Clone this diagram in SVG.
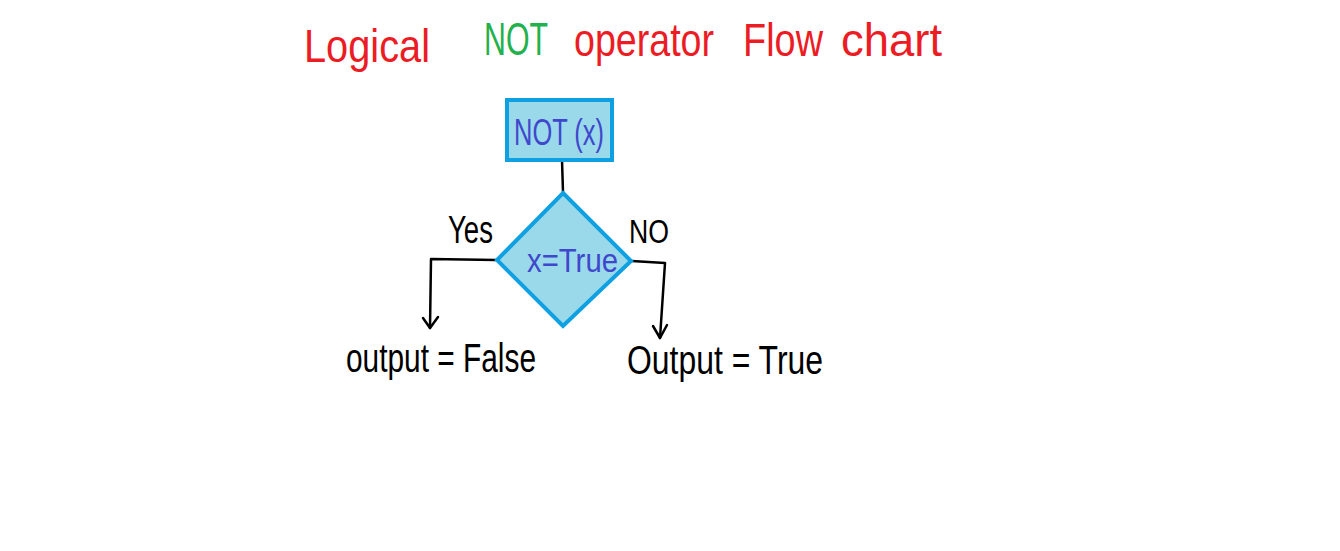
<svg xmlns="http://www.w3.org/2000/svg" width="1340" height="551" viewBox="0 0 1340 551">
<style>
.t{font-family:"Liberation Sans",Arial,sans-serif}
.red{fill:#ec1c24;font-size:46px}
.green{fill:#22b14c;font-size:46px}
.blue{fill:#3f48cc}
.blk{fill:#000}
.node{fill:#99d9ea;stroke:#0fa0e2;stroke-width:4}
.conn{fill:none;stroke:#000;stroke-width:2.5;stroke-linecap:round;stroke-linejoin:round}
</style>
<rect width="1340" height="551" fill="#fff"/>
<g id="title">
<text class="t red" x="304" y="62" font-size="56" textLength="126" lengthAdjust="spacingAndGlyphs">Logical</text>
<text class="t green" x="484" y="55" textLength="64" lengthAdjust="spacingAndGlyphs">NOT</text>
<text class="t red" x="574" y="56" textLength="140" lengthAdjust="spacingAndGlyphs">operator</text>
<text class="t red" x="743" y="56" textLength="80" lengthAdjust="spacingAndGlyphs">Flow</text>
<text class="t red" x="841" y="56" textLength="101" lengthAdjust="spacingAndGlyphs">chart</text>
</g>
<g id="connectors">
<path class="conn" d="M562,160 L563,192"/>
<path class="conn" d="M496,260 L431,259 L430,328"/>
<path class="conn" d="M423,318 L430,328 L438,317"/>
<path class="conn" d="M632,261 L665,263 L660,338"/>
<path class="conn" d="M653,326 L660,338 L667,325"/>
</g>
<g id="start">
<rect class="node" x="507" y="100" width="105" height="60"/>
<text class="t blue" x="514" y="145" font-size="36" textLength="90" lengthAdjust="spacingAndGlyphs">NOT (x)</text>
</g>
<g id="decision">
<polygon class="node" points="563,193 631,261 563,326 497,260"/>
<text class="t blue" x="527" y="272" font-size="33" textLength="91" lengthAdjust="spacingAndGlyphs">x=True</text>
</g>
<g id="label-yes">
<text class="t blk" x="448" y="243" font-size="38" textLength="45" lengthAdjust="spacingAndGlyphs">Yes</text>
</g>
<g id="label-no">
<text class="t blk" x="629" y="243" font-size="34" textLength="40" lengthAdjust="spacingAndGlyphs">NO</text>
</g>
<g id="out-false">
<text class="t blk" x="346" y="372" font-size="40" textLength="190" lengthAdjust="spacingAndGlyphs">output = False</text>
</g>
<g id="out-true">
<text class="t blk" x="627" y="374" font-size="40" textLength="196" lengthAdjust="spacingAndGlyphs">Output = True</text>
</g>
</svg>
